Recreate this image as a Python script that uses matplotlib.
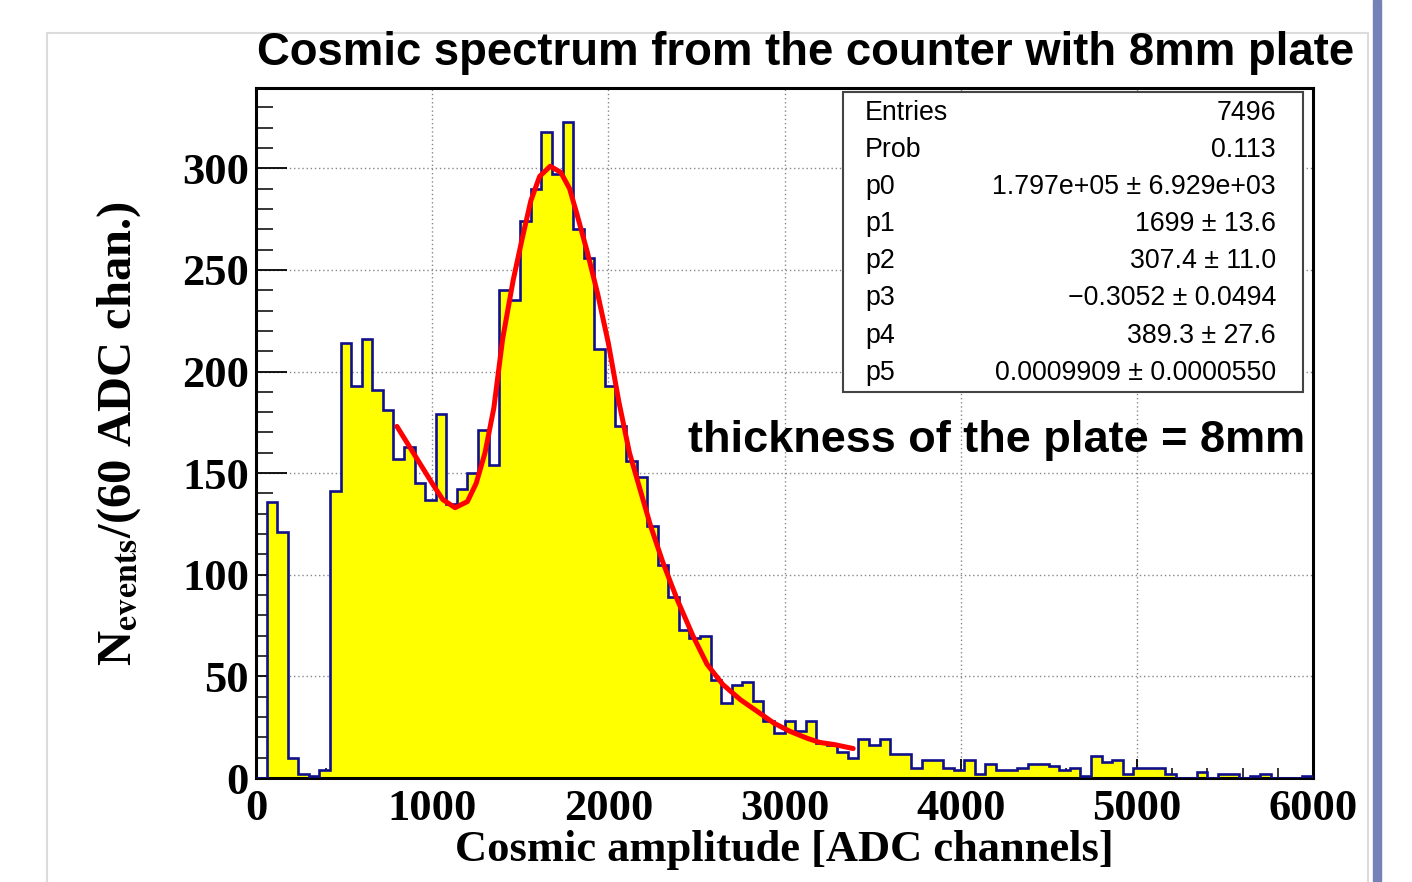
import numpy as np
import matplotlib
matplotlib.use("Agg")
import matplotlib.pyplot as plt
from matplotlib.patches import Rectangle
from matplotlib.ticker import MultipleLocator

# Histogram: 100 bins of 60 ADC channels, 0 - 6000
bin_width = 60
counts = [0, 136, 121, 10, 2, 1, 4, 141, 214, 193,
          216, 191, 181, 157, 163, 145, 137, 179, 135, 142,
          150, 171, 154, 240, 235, 274, 290, 318, 297, 323,
          270, 256, 211, 193, 173, 156, 148, 124, 105, 89,
          73, 69, 70, 48, 37, 46, 47, 38, 28, 22,
          28, 23, 28, 17, 16, 13, 10, 19, 16, 19,
          12, 12, 5, 9, 9, 5, 4, 9, 2, 7,
          4, 4, 5, 7, 7, 6, 4, 5, 1, 11,
          8, 9, 2, 5, 5, 5, 2, 0, 0, 3,
          0, 2, 2, 0, 1, 2, 0, 0, 0, 1]

# Fit curve
fit_x = [800, 900, 1000, 1060, 1130, 1200, 1250, 1300, 1350, 1400,
         1460, 1510, 1560, 1610, 1670, 1730, 1780, 1820, 1880, 1940,
         2000, 2060, 2120, 2180, 2240, 2310, 2390, 2480, 2560, 2650,
         2750, 2850, 2940, 3030, 3130, 3200, 3280, 3390]
fit_y = [173, 159, 145, 137, 133, 136, 145, 160, 182, 216,
         245, 265, 284, 296, 301, 298, 290, 278, 259, 238,
         214, 185, 160, 142, 124, 106, 88, 70, 56, 46,
         38.5, 32.5, 27, 23, 19.5, 17.5, 16.5, 14.5]

# Stats box
stat_names = ["Entries", "Prob", "p0", "p1", "p2", "p3", "p4", "p5"]
stat_values = ["7496", "0.113", "1.797e+05 \u00b1 6.929e+03", "1699 \u00b1 13.6",
               "307.4 \u00b1 11.0", "\u22120.3052 \u00b1 0.0494", "389.3 \u00b1 27.6",
               "0.0009909 \u00b1 0.0000550"]

edges = np.arange(len(counts) + 1) * bin_width

plt.rcParams['mathtext.fontset'] = 'stix'
sans = "Liberation Sans"
serif = "Liberation Serif"

fig = plt.figure(figsize=(14.12, 8.82), dpi=100)
ax = fig.add_axes([256 / 1412, 1 - 778 / 882, (1313 - 256) / 1412, (778 - 88) / 882])

# outer frame and side bar
fig.patches.append(Rectangle((47 / 1412, -0.05), (1368 - 47) / 1412, 1.05 - 33 / 882,
                             transform=fig.transFigure, fill=False,
                             edgecolor="#dcdcdc", lw=1.5, zorder=0))
fig.patches.append(Rectangle((1373 / 1412, 0), 8 / 1412, 1,
                             transform=fig.transFigure, color="#7482b6", zorder=0))

ax.set_axisbelow(True)
ax.grid(True, which="major", linestyle=(0, (1, 2)), color="#888888", lw=1.0)

ax.stairs(counts, edges, fill=True, color="#ffff00", zorder=2)
ax.stairs(counts, edges, fill=False, color="#10108c", lw=1.9, zorder=3)
ax.plot(fit_x, fit_y, color="#ff0000", lw=3.6, zorder=4,
        solid_capstyle="round", solid_joinstyle="round")

ax.set_xlim(0, 6000)
ax.set_ylim(0, 339.5)
ax.xaxis.set_major_locator(MultipleLocator(1000))
ax.xaxis.set_minor_locator(MultipleLocator(200))
ax.yaxis.set_major_locator(MultipleLocator(50))
ax.yaxis.set_minor_locator(MultipleLocator(10))
ax.tick_params(axis="x", which="major", direction="in", length=14, width=1.3, pad=8)
ax.tick_params(axis="x", which="minor", direction="in", length=7, width=1.1)
ax.tick_params(axis="y", which="major", direction="in", length=22, width=1.3, pad=5)
ax.tick_params(axis="y", which="minor", direction="in", length=12, width=1.1)
for lab in ax.get_xticklabels() + ax.get_yticklabels():
    lab.set_fontfamily(serif)
    lab.set_fontweight("bold")
    lab.set_fontsize(32)
for sp in ax.spines.values():
    sp.set_linewidth(2.2)

ax.set_xlabel("Cosmic amplitude [ADC channels]", fontfamily=serif, fontweight="bold",
              fontsize=32, labelpad=1)
ax.set_ylabel(r"N$_{\mathbf{events}}$/(60 ADC chan.)", fontfamily=serif,
              fontweight="bold", fontsize=35, labelpad=28)

fig.text(806 / 1412, 1 - 53 / 882, "Cosmic spectrum from the counter with 8mm plate",
         ha="center", va="center", fontfamily=sans, fontweight="bold", fontsize=32.8)

# stats box
bx0, bx1 = (843 - 256) / 1057, (1303 - 256) / 1057
by0, by1 = (778 - 392) / 690, (778 - 92) / 690
ax.add_patch(Rectangle((bx0, by0), bx1 - bx0, by1 - by0, transform=ax.transAxes,
                       facecolor="white", edgecolor="#444444", lw=1.5, zorder=5))
rows_px = [113, 150, 187, 224, 261, 298, 336, 373]
for name, val, ypx in zip(stat_names, stat_values, rows_px):
    yy = (778 - ypx) / 690
    ax.text((865 - 256) / 1057, yy, name, transform=ax.transAxes, ha="left",
            va="center", fontfamily=sans, fontsize=19.3, zorder=6)
    ax.text((1276 - 256) / 1057, yy, val, transform=ax.transAxes, ha="right",
            va="center", fontfamily=sans, fontsize=19.3, zorder=6)

ax.text((1305 - 256) / 1057, (778 - 440) / 690, "thickness of the plate = 8mm",
        transform=ax.transAxes, ha="right", va="center", fontfamily=sans,
        fontweight="bold", fontsize=32.5, zorder=6)

fig.savefig("out.png", dpi=100)
